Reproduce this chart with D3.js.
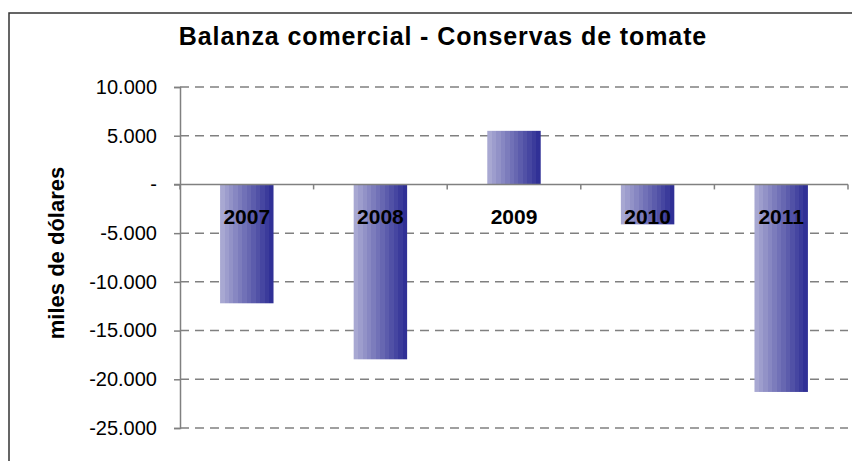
<!DOCTYPE html>
<html>
<head>
<meta charset="utf-8">
<script src="https://cdn.jsdelivr.net/npm/d3@7"></script>
<style>
  body { margin:0; background:#fff; }
  text { font-family: "Liberation Sans", Arial, sans-serif; }
</style>
</head>
<body>
<div id="chart-area"></div>
<script>
/* Data */
var years = ["2007", "2008", "2009", "2010", "2011"];
var balance = [-12200, -17950, 5500, -4100, -21300];
var yTicks = [10000, 5000, 0, -5000, -10000, -15000, -20000, -25000];

var W = 852, H = 461;
var margin = { top:87, right:4, bottom:33, left:180 };
var width = 848 - margin.left;
var height = 428 - margin.top;

var svg = d3.select("#chart-area").append("svg")
  .attr("width", W)
  .attr("height", H);

// outer frame
svg.append("rect")
  .attr("x", 9).attr("y", 13)
  .attr("width", W + 10).attr("height", H + 10)
  .attr("fill", "none")
  .attr("stroke", "#333")
  .attr("stroke-width", 1.5);

// stepped gradient for bars
var grad = svg.append("defs").append("linearGradient")
  .attr("id", "barGrad")
  .attr("x1", "0%").attr("x2", "100%").attr("y1", "0%").attr("y2", "0%");
var light = d3.rgb(168, 168, 210), dark = d3.rgb(48, 48, 150);
var steps = 12;
for (var i = 0; i < steps; i++) {
  var c = d3.interpolateRgb(light, dark)(i / (steps - 1));
  grad.append("stop").attr("offset", (i / steps * 100) + "%").attr("stop-color", c);
  grad.append("stop").attr("offset", ((i + 1) / steps * 100) + "%").attr("stop-color", c);
}

var g = svg.append("g")
  .attr("transform", "translate(" + margin.left + "," + margin.top + ")");

/* Scales */
var x = d3.scaleBand()
  .domain(years)
  .range([0, width])
  .paddingInner(0.6)
  .paddingOuter(0.3);

var y = d3.scaleLinear()
  .domain([-25000, 10000])
  .range([height, 0]);

// Spanish style: dot as thousands separator, plain hyphen, dash for zero
var fmt = function(d) {
  if (d === 0) return "-";
  return d3.format(",")(d).replace(/,/g, ".").replace("\u2212", "-");
};

// gridlines
g.selectAll(".grid")
  .data(yTicks.filter(function(d){ return d !== 0; }))
  .enter().append("line")
    .attr("x1", 0).attr("x2", width)
    .attr("y1", function(d){ return y(d); })
    .attr("y2", function(d){ return y(d); })
    .attr("stroke", "#808080")
    .attr("stroke-width", 1.5)
    .attr("stroke-dasharray", "9,6");

// Y axis
var yAxisGroup = g.append("g")
  .call(d3.axisLeft(y).tickValues(yTicks).tickFormat(fmt).tickSize(6).tickPadding(17));
yAxisGroup.select(".domain").attr("stroke", "#808080").attr("stroke-width", 1.5);
yAxisGroup.selectAll(".tick line").attr("stroke", "#808080").attr("stroke-width", 1.5);
yAxisGroup.selectAll(".tick text")
  .attr("font-size", "20px")
  .attr("font-family", "Liberation Sans, Arial, sans-serif")
  .attr("fill", "#000");

// bars
g.selectAll("rect.bar")
  .data(balance)
  .enter().append("rect")
    .attr("class", "bar")
    .attr("x", function(d, i){ return x(years[i]); })
    .attr("y", function(d){ return y(Math.max(0, d)); })
    .attr("width", x.bandwidth())
    .attr("height", function(d){ return Math.abs(y(d) - y(0)); })
    .attr("fill", "url(#barGrad)");

// zero line with category ticks
g.append("line")
  .attr("x1", -6).attr("x2", width)
  .attr("y1", y(0)).attr("y2", y(0))
  .attr("stroke", "#808080")
  .attr("stroke-width", 1.5);

var step = x.step();
g.selectAll(".xtick")
  .data(d3.range(years.length + 1))
  .enter().append("line")
    .attr("x1", function(d){ return d * step; })
    .attr("x2", function(d){ return d * step; })
    .attr("y1", y(0)).attr("y2", y(0) + 5)
    .attr("stroke", "#808080")
    .attr("stroke-width", 1.5);

// category labels
g.selectAll(".xlabel")
  .data(years)
  .enter().append("text")
    .attr("x", function(d){ return x(d) + x.bandwidth() / 2; })
    .attr("y", y(0) + 39.5)
    .attr("text-anchor", "middle")
    .attr("font-size", "21px")
    .attr("font-weight", "bold")
    .text(function(d){ return d; });

// title
svg.append("text")
  .attr("x", 443)
  .attr("y", 45)
  .attr("text-anchor", "middle")
  .attr("font-size", "25px")
  .attr("font-weight", "bold")
  .attr("letter-spacing", "0.9px")
  .text("Balanza comercial - Conservas de tomate");

// Y label
svg.append("text")
  .attr("transform", "translate(64," + 253 + ") rotate(-90)")
  .attr("text-anchor", "middle")
  .attr("font-size", "22px")
  .attr("font-weight", "bold")
  .text("miles de dólares");
</script>
</body>
</html>
